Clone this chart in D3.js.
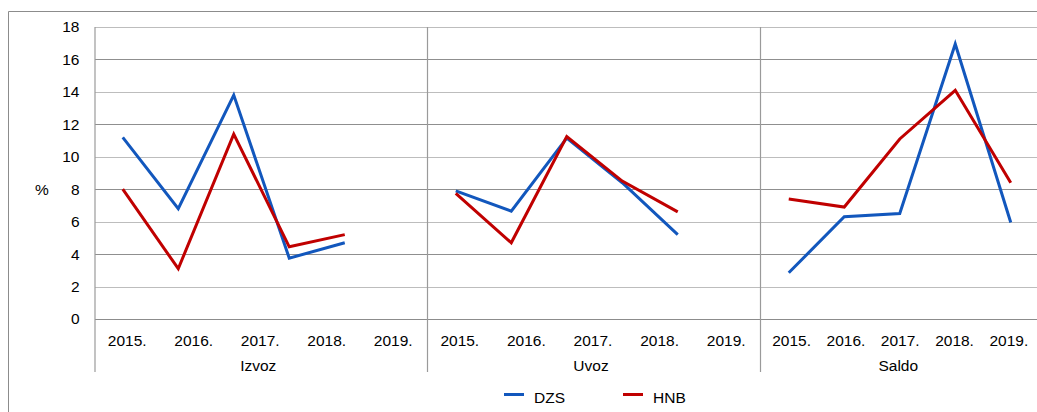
<!DOCTYPE html>
<html>
<head>
<meta charset="utf-8">
<script src="https://cdn.jsdelivr.net/npm/d3@7"></script>
<style>
  html, body { margin: 0; padding: 0; background: #fff; }
  svg { display: block; font-family: "Liberation Sans", Arial, sans-serif; }
</style>
</head>
<body>
<svg id="chart" width="1037" height="412"></svg>
<script>
// ---- data ----
const groups = ["Izvoz", "Uvoz", "Saldo"];
const years = ["2015.", "2016.", "2017.", "2018.", "2019."];
const yTicks = [0, 2, 4, 6, 8, 10, 12, 14, 16, 18];
const seriesNames = ["DZS", "HNB"];
const dzsIzvoz = [11.2, 6.8, 13.8, 3.75, 4.7];
const hnbIzvoz = [8.0, 3.1, 11.4, 4.45, 5.2];
const dzsUvoz = [7.9, 6.65, 11.15, 8.4, 5.2];
const hnbUvoz = [7.75, 4.7, 11.25, 8.5, 6.6];
const dzsSaldo = [2.85, 6.3, 6.5, 16.95, 5.95];
const hnbSaldo = [7.4, 6.9, 11.1, 14.1, 8.4];
const colors = ["#1257bd", "#c00000"];

const series = [
  { name: "DZS", groups: [dzsIzvoz, dzsUvoz, dzsSaldo] },
  { name: "HNB", groups: [hnbIzvoz, hnbUvoz, hnbSaldo] }
];

// ---- layout ----
const svg = d3.select("#chart");
const plotLeft = 95, plotTop = 27, plotBottom = 319, plotRight = 1037;
const sepBottom = 372;
const fontSize = "15.5px";

const y = d3.scaleLinear().domain([0, 18]).range([plotBottom, plotTop]);

// slots used by the data lines (6 slots per group, 18 in all)
const slotKeys = d3.range(groups.length * 6);
const xSlot = d3.scaleBand().domain(slotKeys).range([plotLeft, plotLeft + 18 * 55.5]).padding(0);

// group panels for the category axis
const panelEdges = [95, 427.5, 760.5, 1037];
const groupBand = groups.map((g, i) =>
  d3.scaleBand().domain(years).range([panelEdges[i] + (i === 2 ? 5 : 0), panelEdges[i + 1]]).padding(0)
);

// outer frame (left and top only visible)
svg.append("path")
  .attr("d", `M8.5,412 V11.5 H1037`)
  .attr("fill", "none").attr("stroke", "#8c8c8c").attr("stroke-width", 1);

// horizontal gridlines
svg.append("g").selectAll("line").data(yTicks).join("line")
  .attr("x1", plotLeft).attr("x2", plotRight)
  .attr("y1", d => Math.round(y(d)) + 0.5).attr("y2", d => Math.round(y(d)) + 0.5)
  .attr("stroke", d => d === 0 ? "#8c8c8c" : (d % 4 === 2 ? "#bdbdbd" : "#8f8f8f"))
  .attr("stroke-width", 1.2);

// vertical separators
svg.append("g").selectAll("line").data(panelEdges.slice(0, 3)).join("line")
  .attr("x1", d => d).attr("x2", d => d)
  .attr("y1", plotTop).attr("y2", sepBottom)
  .attr("stroke", "#9a9a9a").attr("stroke-width", 1.2);

// y tick labels
svg.append("g").selectAll("text").data(yTicks).join("text")
  .attr("x", 79.5).attr("y", d => y(d)).attr("dy", "0.35em")
  .attr("text-anchor", "end").attr("font-size", fontSize).attr("fill", "#000")
  .text(d => d);

svg.append("text").attr("x", 42).attr("y", y(8)).attr("dy", "0.35em")
  .attr("text-anchor", "middle").attr("font-size", fontSize).text("%");

// category labels
groups.forEach((g, gi) => {
  const sc = groupBand[gi];
  svg.append("g").selectAll("text").data(years).join("text")
    .attr("x", d => sc(d) + sc.bandwidth() / 2 - 1)
    .attr("y", 346)
    .attr("text-anchor", "middle").attr("font-size", fontSize).attr("fill", "#000")
    .text(d => d);
  const r = sc.range();
  svg.append("text")
    .attr("x", (r[0] + r[1]) / 2 - 3).attr("y", 370.5)
    .attr("text-anchor", "middle").attr("font-size", fontSize).attr("fill", "#000")
    .text(g);
});

// lines
const line = d3.line()
  .x(d => xSlot(d.slot) + xSlot.bandwidth() / 2)
  .y(d => y(d.v));

series.forEach((s, si) => {
  s.groups.forEach((vals, gi) => {
    const pts = vals.map((v, i) => ({ slot: gi * 6 + i, v }));
    svg.append("path").datum(pts)
      .attr("d", line)
      .attr("fill", "none")
      .attr("stroke", colors[si])
      .attr("stroke-width", 3)
      .attr("stroke-linejoin", "miter");
  });
});

// legend
const legendX = [504, 623];
seriesNames.forEach((n, i) => {
  svg.append("line")
    .attr("x1", legendX[i]).attr("x2", legendX[i] + 20)
    .attr("y1", 394.5).attr("y2", 394.5)
    .attr("stroke", colors[i]).attr("stroke-width", 3);
  svg.append("text")
    .attr("x", legendX[i] + 30).attr("y", 402.5)
    .attr("font-size", fontSize).attr("fill", "#000")
    .text(n);
});
</script>
</body>
</html>
